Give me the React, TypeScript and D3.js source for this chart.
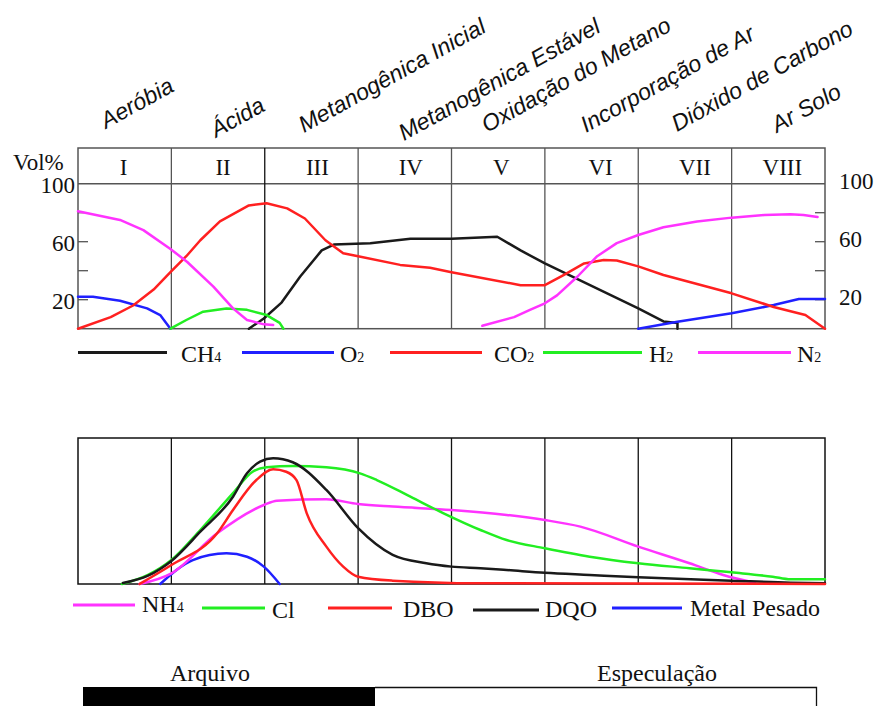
import { curveLinear, curveMonotoneX, line as d3Line, range, scaleLinear } from "d3";

// phases (top header)
const phaseNumerals = ["I", "II", "III", "IV", "V", "VI", "VII", "VIII"];
const phaseNames = [
  "Aeróbia",
  "Ácida",
  "Metanogênica Inicial",
  "Metanogênica Estável",
  "Oxidação do Metano",
  "Incorporação de Ar",
  "Dióxido de Carbono",
  "Ar Solo",
];
const gasTicks = [20, 40, 60, 80];
const gasTickLabels = [20, 60, 100];

// gases, Vol% — x in phase units (0..8), null = gap
const ch4X = [1.83, 1.99, 2.18, 2.38, 2.61, 2.74, 3.13, 3.56, 4.0, 4.49, 4.74, 5.0, 6.0, 6.27, 6.42, 6.42];
const ch4Y = [0, 7, 18, 36, 54, 58, 59, 62, 62, 63.4, 54, 45, 14, 5, 4, 0];
const o2X = [0, 0.16, 0.45, 0.74, 0.88, 0.99, null, 6.0, 6.42, 7.0, 7.45, 7.72, 8.0];
const o2Y = [22, 22, 19.3, 14, 9.4, 0, null, 0, 4.8, 10.6, 16.3, 20.5, 20.5];
const co2X = [0, 0.35, 0.59, 0.81, 0.99, 1.16, 1.31, 1.52, 1.83, 2.02, 2.24, 2.43, 2.65, 2.84, 3.0, 3.45, 3.77, 4.0, 4.74, 5.0, 5.2, 5.42, 5.63, 5.77, 6.0, 6.27, 7.0, 7.45, 7.79, 8.0];
const co2Y = [0, 8, 16, 27, 39, 50, 61, 74, 85, 86.5, 83, 76, 61, 52, 50, 44, 42, 39, 30, 30, 37, 45, 47.4, 47, 43, 37, 24.4, 15, 9.4, 0];
const h2X = [0.99, 1.16, 1.34, 1.59, 1.81, 2.02, 2.16, 2.2];
const h2Y = [0, 6, 11.7, 14, 13, 9.4, 4, 0];
const n2X = [0, 0.45, 0.7, 0.99, 1.17, 1.45, 1.66, 1.81, 1.99, 2.09, null, 4.33, 4.67, 4.84, 5.0, 5.13, 5.35, 5.56, 5.77, 6.0, 6.27, 6.63, 7.0, 7.35, 7.63, 7.77, 7.92];
const n2Y = [81, 75, 68, 55, 46, 29, 14, 6, 3, 2.5, null, 2, 8, 13, 17.5, 23, 36, 50, 59, 64.6, 70, 74, 76.6, 78.4, 79, 78.4, 77];

// leachate (relative)
const nh4X = [0.66, 1.0, 1.49, 1.99, 2.13, 2.66, 3.0, 3.37, 4.0, 4.59, 5.0, 5.38, 6.0, 6.55, 6.91, 7.25];
const nh4Y = [0, 7.3, 34.7, 54.1, 57.1, 58, 54.8, 53, 50.7, 47.3, 43.8, 39.3, 25.6, 14.2, 6.2, 0.9];
const clX = [0.47, 0.75, 1.0, 1.31, 1.66, 1.87, 2.02, 2.3, 2.66, 3.02, 3.2, 3.56, 3.91, 4.31, 4.59, 5.0, 5.48, 6.0, 6.55, 7.0, 7.44, 7.63, 8.0];
const clY = [0, 6.2, 16.4, 37, 62.3, 76.9, 79.9, 80.8, 79.9, 75.8, 71.2, 59.8, 48.6, 37, 30.1, 24.5, 18.7, 14.2, 10.8, 8.0, 5.0, 3.2, 3.2];
const dboX = [0.66, 1.0, 1.49, 1.66, 1.91, 2.09, 2.23, 2.34, 2.45, 2.66, 2.84, 3.0, 3.37, 4.31, 8.0];
const dboY = [0, 13, 34.7, 50.7, 71.2, 78.6, 76.9, 71.2, 48.4, 25.6, 11.9, 5.0, 2.3, 0.5, 0];
const dqoX = [0.48, 0.75, 1.0, 1.31, 1.66, 1.81, 1.95, 2.09, 2.3, 2.66, 3.0, 3.37, 3.73, 4.0, 4.31, 4.59, 5.0, 5.48, 6.0, 7.0, 7.63, 8.0];
const dqoY = [0.7, 5.7, 15.8, 35.8, 59.8, 75.8, 83.8, 86.1, 83.4, 64.4, 38.2, 19.9, 14.2, 11.9, 10.8, 9.6, 7.7, 6.2, 4.6, 2.3, 0.9, 0.5];
const metalX = [0.88, 1.23, 1.59, 1.81, 1.99, 2.16];
const metalY = [0, 16.4, 21, 18.7, 11.9, 0];

const archiveLabels = ["Arquivo", "Especulação"];

type Pt = { x: number; y: number } | null;
const zip = (xs: (number | null)[], ys: (number | null)[]): Pt[] =>
  xs.map((x, i) => (x === null || ys[i] === null ? null : { x, y: ys[i] as number }));

const gasSeries = [
  { name: "CH", sub: "4", color: "#1a1a1a", pts: zip(ch4X, ch4Y) },
  { name: "O", sub: "2", color: "#2020ff", pts: zip(o2X, o2Y) },
  { name: "CO", sub: "2", color: "#ff2020", pts: zip(co2X, co2Y) },
  { name: "H", sub: "2", color: "#22ee22", pts: zip(h2X, h2Y) },
  { name: "N", sub: "2", color: "#ff33ff", pts: zip(n2X, n2Y) },
];
const leachSeries = [
  { name: "NH", sub: "4", color: "#ff33ff", pts: zip(nh4X, nh4Y) },
  { name: "Cl", sub: "", color: "#22ee22", pts: zip(clX, clY) },
  { name: "DBO", sub: "", color: "#ff2020", pts: zip(dboX, dboY) },
  { name: "DQO", sub: "", color: "#1a1a1a", pts: zip(dqoX, dqoY) },
  { name: "Metal Pesado", sub: "", color: "#2020ff", pts: zip(metalX, metalY) },
];
// draw order in the lower panel
const leachOrder = [4, 0, 1, 3, 2];

// legend layout: line x1, x2, text x, line y, text y
const gasLegend = [
  [78, 167, 181],
  [242, 334, 340],
  [390, 482, 494],
  [543, 642, 649],
  [698, 791, 797],
];
const leachLegend = [
  [73, 135, 142, 605, 612],
  [202, 265, 272, 608, 618],
  [328, 392, 403, 608, 617],
  [473, 539, 545, 610, 617],
  [612, 682, 690, 608, 616],
];
// label baseline starts
const phaseLabelPos = [
  [106, 129],
  [216, 138],
  [304, 133],
  [404, 141],
  [487, 133],
  [586, 133],
  [677, 132],
  [777, 133],
];
// numeral shift from cell centre
const numeralDx = [-1, 5, 6, 6, 3, 9, 10, 4];

const SERIF = "'Liberation Serif', 'Times New Roman', serif";
const SANS = "'Liberation Sans', Arial, sans-serif";

export default function App() {
  const x = scaleLinear().domain([0, 8]).range([78, 825]);
  const yTop = scaleLinear().domain([0, 100]).range([328.7, 183.7]);
  const yBot = scaleLinear().domain([0, 100]).range([584, 438]);

  const topLine = d3Line<Pt>()
    .defined((d) => d !== null)
    .x((d) => x(d!.x))
    .y((d) => yTop(d!.y))
    .curve(curveLinear);
  const botLine = d3Line<Pt>()
    .defined((d) => d !== null)
    .x((d) => x(d!.x))
    .y((d) => yBot(d!.y))
    .curve(curveMonotoneX);

  const dividers = range(1, 8);

  return (
    <svg
      width={874}
      height={706}
      style={{ position: "absolute", left: 0, top: 0, background: "#fff" }}
      fontFamily={SERIF}
    >
      {/* phase names */}
      {phaseNames.map((name, i) => (
        <text
          key={name}
          transform={`translate(${phaseLabelPos[i][0]},${phaseLabelPos[i][1]}) rotate(-29)`}
          fontFamily={SANS}
          fontStyle="italic"
          fontSize={23}
          fill="#111"
        >
          {name}
        </text>
      ))}

      {/* top panel */}
      <rect x={x(0)} y={148} width={x(8) - x(0)} height={yTop(0) - 148} fill="none" stroke="#555" strokeWidth={1.5} />
      <line x1={x(0)} x2={x(8)} y1={yTop(100)} y2={yTop(100)} stroke="#555" strokeWidth={1.5} />
      {dividers.map((d) => (
        <line key={d} x1={x(d)} x2={x(d)} y1={148} y2={yTop(0)} stroke={d === 2 ? "#111" : "#555"} strokeWidth={1.3} />
      ))}
      {phaseNumerals.map((n, i) => (
        <text key={n} x={x(i + 0.5) + numeralDx[i]} y={175} textAnchor="middle" fontSize={23} fill="#111">
          {n}
        </text>
      ))}
      <text x={13} y={170} fontSize={23} fill="#111">
        Vol%
      </text>
      {gasTicks.map((t) => (
        <g key={t}>
          <line x1={x(0)} x2={x(0) + 10} y1={yTop(t)} y2={yTop(t)} stroke="#555" strokeWidth={1.3} />
          <line x1={x(8) - 10} x2={x(8)} y1={yTop(t)} y2={yTop(t)} stroke="#555" strokeWidth={1.3} />
        </g>
      ))}
      {gasTickLabels.map((t) => (
        <g key={t}>
          <text x={75} y={yTop(t) + 9} textAnchor="end" fontSize={23} fill="#111">
            {t}
          </text>
          <text x={839} y={yTop(t) + 5} fontSize={23} fill="#111">
            {t}
          </text>
        </g>
      ))}
      {gasSeries.map((s) => (
        <path
          key={s.name}
          d={topLine(s.pts) ?? ""}
          fill="none"
          stroke={s.color}
          strokeWidth={2.5}
          strokeLinejoin="round"
          strokeLinecap="round"
        />
      ))}
      {gasSeries.map((s, i) => (
        <g key={s.name}>
          <line x1={gasLegend[i][0]} x2={gasLegend[i][1]} y1={352.5} y2={352.5} stroke={s.color} strokeWidth={3} />
          <text x={gasLegend[i][2]} y={362} fontSize={24} fill="#111">
            {s.name}
            <tspan fontSize={14}>{s.sub}</tspan>
          </text>
        </g>
      ))}

      {/* bottom panel */}
      <rect x={x(0)} y={yBot(100)} width={x(8) - x(0)} height={yBot(0) - yBot(100)} fill="none" stroke="#111" strokeWidth={1.5} />
      {dividers.map((d) => (
        <line key={d} x1={x(d)} x2={x(d)} y1={yBot(100)} y2={yBot(0)} stroke="#111" strokeWidth={1.3} />
      ))}
      {leachOrder.map((k) => (
        <path
          key={leachSeries[k].name}
          d={botLine(leachSeries[k].pts) ?? ""}
          fill="none"
          stroke={leachSeries[k].color}
          strokeWidth={2.5}
          strokeLinejoin="round"
          strokeLinecap="round"
        />
      ))}
      {leachSeries.map((s, i) => (
        <g key={s.name}>
          <line x1={leachLegend[i][0]} x2={leachLegend[i][1]} y1={leachLegend[i][3]} y2={leachLegend[i][3]} stroke={s.color} strokeWidth={3} />
          <text x={leachLegend[i][2]} y={leachLegend[i][4]} fontSize={24} fill="#111">
            {s.name}
            {s.sub ? <tspan fontSize={14}>{s.sub}</tspan> : null}
          </text>
        </g>
      ))}

      {/* archive / speculation bar */}
      <text x={170} y={681} fontSize={24} fill="#111">
        {archiveLabels[0]}
      </text>
      <text x={597} y={681} fontSize={24} fill="#111">
        {archiveLabels[1]}
      </text>
      <rect x={83} y={687} width={292} height={25} fill="#000" />
      <path d="M375,687.5 H816.5 V712" fill="none" stroke="#111" strokeWidth={1.3} />
    </svg>
  );
}
